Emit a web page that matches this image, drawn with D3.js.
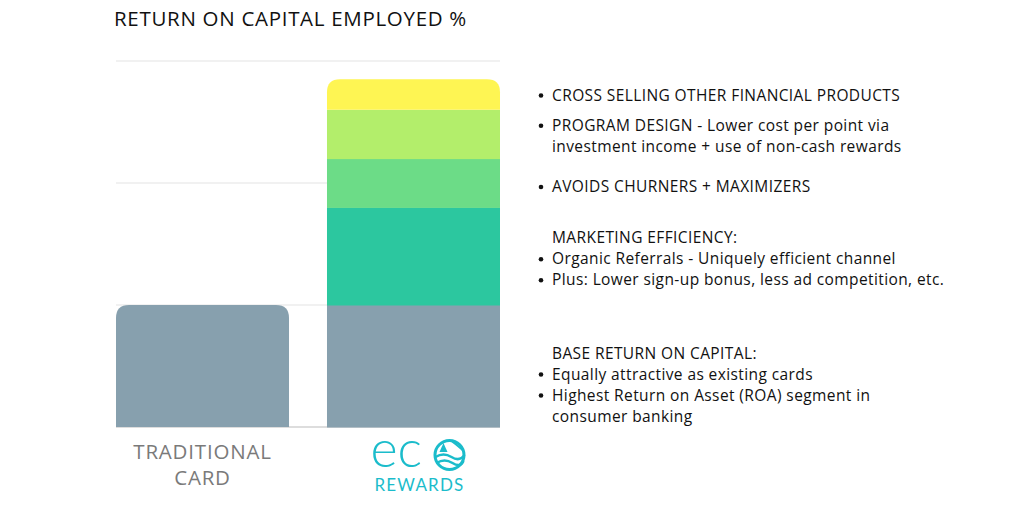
<!DOCTYPE html>
<html>
<head>
<meta charset="utf-8">
<script src="https://cdn.jsdelivr.net/npm/d3@7.9.0/dist/d3.min.js"></script>
<style>
  body { margin: 0; background: #fff; }
  svg { display: block; font-family: "Open Sans", sans-serif; }
</style>
</head>
<body>
<svg id="chart" width="1024" height="512"></svg>
<script>
// chart data
const categories = ['TRADITIONAL CARD', 'ECO REWARDS'];
const segments = ['base', 'marketing', 'churners', 'design', 'crossSell'];
const traditionalValues = [1, 0, 0, 0, 0];
const ecoValues = [1, 0.8, 0.4, 0.4, 0.25];
const yTicks = [0, 1, 2, 3];
const segmentColors = ['#87a0ae', '#2cc79f', '#6cdc87', '#b3ee6b', '#fef553'];

// annotation text per segment (index matches segments)
const notes = [
  { lines: [['', 'BASE RETURN ON CAPITAL:'], ['•', 'Equally attractive as existing cards'], ['•', 'Highest Return on Asset (ROA) segment in'], ['', 'consumer banking']], dy: 19 },
  { lines: [['', 'MARKETING EFFICIENCY:'], ['•', 'Organic Referrals - Uniquely efficient channel'], ['•', 'Plus: Lower sign-up bonus, less ad competition, etc.']], dy: 3 },
  { lines: [['•', 'AVOIDS CHURNERS + MAXIMIZERS']], dy: 4 },
  { lines: [['•', 'PROGRAM DESIGN - Lower cost per point via'], ['', 'investment income + use of non-cash rewards']], dy: 2 },
  { lines: [['•', 'CROSS SELLING OTHER FINANCIAL PRODUCTS']], dy: 1 }
];

const svg = d3.select('#chart');
const plotLeft = 116, plotRight = 500, plotTop = 61, plotBottom = 427;

const x = d3.scaleBand().domain(categories).range([plotLeft, plotRight]).paddingInner(0.18).paddingOuter(0);
const y = d3.scaleLinear().domain([0, 3]).range([plotBottom, plotTop]);

// title
svg.append('text')
  .attr('x', 114).attr('y', 26)
  .attr('font-size', 20.5).attr('font-weight', 500).attr('fill', '#111')
  .attr('letter-spacing', 0.7)
  .text('RETURN ON CAPITAL EMPLOYED %');

// gridlines
svg.append('g').selectAll('line')
  .data(yTicks)
  .join('line')
  .attr('x1', plotLeft).attr('x2', plotRight)
  .attr('y1', d => y(d)).attr('y2', d => y(d))
  .attr('stroke', d => d === 0 ? '#bbb' : '#e3e3e3')
  .attr('stroke-width', 1);

// stack data
const rows = [traditionalValues, ecoValues].map((vals, i) => {
  const r = { cat: categories[i] };
  segments.forEach((s, j) => r[s] = vals[j]);
  return r;
});
const stacked = d3.stack().keys(segments)(rows);
const radius = 13;

// path for a rect with rounded top corners
function topRounded(x0, y0, w, h, r) {
  r = Math.min(r, h, w / 2);
  return `M${x0},${y0 + h}V${y0 + r}Q${x0},${y0} ${x0 + r},${y0}H${x0 + w - r}Q${x0 + w},${y0} ${x0 + w},${y0 + r}V${y0 + h}Z`;
}

rows.forEach((row, ri) => {
  // topmost non-empty segment gets the rounded corners
  let lastIdx = -1;
  stacked.forEach((layer, li) => { if (layer[ri][1] > layer[ri][0]) lastIdx = li; });
  stacked.forEach((layer, li) => {
    const d = layer[ri];
    if (d[1] <= d[0]) return;
    const x0 = x(row.cat), w = x.bandwidth();
    const y0 = y(d[1]), h = y(d[0]) - y(d[1]);
    if (li === lastIdx) {
      svg.append('path').attr('d', topRounded(x0, y0, w, h, radius)).attr('fill', segmentColors[li]);
    } else {
      svg.append('rect').attr('x', x0).attr('y', y0).attr('width', w).attr('height', h + 0.5).attr('fill', segmentColors[li]);
    }
  });
});

// category label: traditional card
const tc = x(categories[0]) + x.bandwidth() / 2;
svg.append('text').attr('x', tc).attr('y', 459).attr('text-anchor', 'middle')
  .attr('font-size', 20.5).attr('font-weight', 500).attr('fill', '#7a7a7a')
  .attr('letter-spacing', 0.8).text('TRADITIONAL');
svg.append('text').attr('x', tc).attr('y', 485).attr('text-anchor', 'middle')
  .attr('font-size', 20.5).attr('font-weight', 500).attr('fill', '#7a7a7a')
  .attr('letter-spacing', 0.8).text('CARD');

// eco rewards logo
const ec = x(categories[1]) + x.bandwidth() / 2;
const logoColor = '#1bbccb';
const logo = svg.append('g');
logo.append('text').attr('x', ec - 43).attr('y', 467)
  .attr('font-size', 52).attr('font-weight', 300).attr('fill', logoColor)
  .attr('font-family', 'Lato, sans-serif').text('ec');
const cx = ec + 36, cy = 455, cr = 16;
logo.append('circle').attr('cx', cx).attr('cy', cy).attr('r', cr - 1.5)
  .attr('fill', 'none').attr('stroke', logoColor).attr('stroke-width', 3);
logo.append('path')
  .attr('d', `M${cx - 14},${cy + 2}Q${cx - 6},${cy - 3} ${cx + 2},${cy + 2}T${cx + 15},${cy}`)
  .attr('fill', 'none').attr('stroke', logoColor).attr('stroke-width', 2.5);
logo.append('path')
  .attr('d', `M${cx - 13},${cy + 8}Q${cx - 5},${cy + 3} ${cx + 3},${cy + 8}T${cx + 14},${cy + 6}`)
  .attr('fill', 'none').attr('stroke', logoColor).attr('stroke-width', 2.5);
logo.append('path')
  .attr('d', `M${cx - 6},${cy - 12}L${cx - 10},${cy - 3}H${cx - 2}Z`).attr('fill', logoColor);
logo.append('path')
  .attr('d', `M${cx + 2},${cy - 14}Q${cx + 10},${cy - 8} ${cx + 14},${cy - 4}`)
  .attr('fill', 'none').attr('stroke', logoColor).attr('stroke-width', 2);
svg.append('text').attr('x', ec + 6).attr('y', 491).attr('text-anchor', 'middle')
  .attr('font-size', 17).attr('font-family', 'Lato, sans-serif').attr('fill', logoColor)
  .attr('letter-spacing', 1.2).text('REWARDS');

// annotations aligned to segment middles of the eco bar
const lh = 21;
const textX = 552;
notes.forEach((note, i) => {
  const d = stacked[i][1];
  const mid = (y(d[0]) + y(d[1])) / 2;
  const n = note.lines.length;
  const firstBase = mid - (n - 1) * lh / 2 + 5 + note.dy;
  note.lines.forEach(([b, t], k) => {
    const yy = firstBase + k * lh;
    if (b) svg.append('circle').attr('cx', 541).attr('cy', yy - 5).attr('r', 2.3).attr('fill', '#111');
    svg.append('text').attr('x', textX).attr('y', yy)
      .attr('font-size', 15.5).attr('font-weight', 500).attr('fill', '#111')
      .attr('letter-spacing', 0.4).text(t);
  });
});
</script>
</body>
</html>
